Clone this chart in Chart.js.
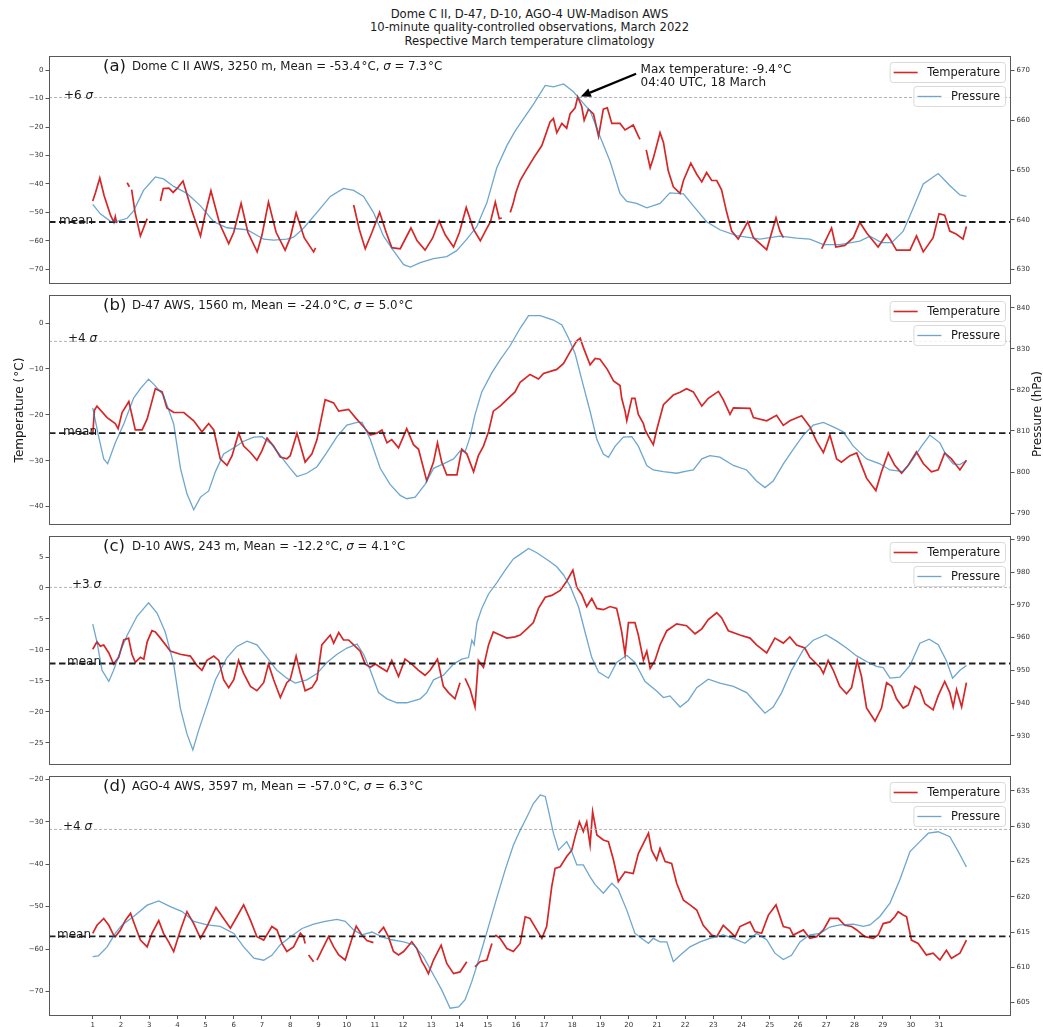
<!DOCTYPE html>
<html>
<head>
<meta charset="utf-8">
<title>UW-Madison AWS, March 2022</title>
<script src="https://cdn.jsdelivr.net/npm/chart.js@4.4.1/dist/chart.umd.min.js"></script>
<style>
  body { margin: 0; background: #fff; }
  #fig { position: relative; width: 1043px; height: 1027px; background: #fff; overflow: hidden; }
  #fig canvas { position: absolute; left: 0; }
  #title {
    position: absolute; left: 0; top: 8px; width: 1059px; text-align: center;
    font: 11.6px/13.3px "DejaVu Sans", sans-serif; color: #1a1a1a;
  }
</style>
</head>
<body>
<div id="fig">
  <div id="title">Dome C II, D-47, D-10, AGO-4 UW-Madison AWS<br>10-minute quality-controlled observations, March 2022<br>Respective March temperature climatology</div>
  <canvas id="p0"></canvas>
  <canvas id="p1"></canvas>
  <canvas id="p2"></canvas>
  <canvas id="p3"></canvas>
</div>
<script>
// station metadata and March climatology
const stations = ["Dome C II", "D-47", "D-10", "AGO-4"];
const elevations = [3250, 1560, 243, 3597];
const climMean = [-53.4, -24.0, -12.2, -57.0];
const climSigma = [7.3, 5.0, 4.1, 6.3];
const sigmaLevel = [6, 4, 3, 4];

// warmest reading at Dome C II
const maxTemp = -9.4;
const maxTempDay = 18 + (4 * 60 + 40) / 1440;

// [day of March, value]; null marks a gap in the record
const domeTemp = [[1.0,-46],[1.1,-43],[1.25,-37.9],[1.4,-44],[1.63,-51],[1.75,-53.5],[1.8,-51.5],[1.85,-53.8],[1.9,null],
  [2.22,-39.6],[2.3,-41],[2.32,null],[2.38,-42],[2.5,-50],[2.69,-58.3],[2.8,-55.5],[2.93,-52.2],[2.95,null],
  [3.4,-46],[3.5,-41.6],[3.7,-41.5],[3.85,-43],[4.0,-41.5],[4.2,-39],[4.5,-49],[4.82,-58.3],[5.0,-50],[5.19,-42.4],
  [5.5,-54],[5.82,-61],[6.0,-57],[6.26,-46.8],[6.5,-57],[6.83,-63.9],[7.0,-58],[7.23,-46.4],[7.5,-57],[7.82,-63.3],
  [8.0,-59],[8.21,-50.2],[8.5,-59],[8.83,-63.9],[8.9,-62.5],[8.92,null],
  [10.25,-47.4],[10.45,-56],[10.66,-62.8],[10.9,-57],[11.17,-50],[11.4,-57],[11.6,-62.4],[11.9,-62.8],[12.28,-55.5],
  [12.5,-60],[12.78,-63.3],[13.05,-59],[13.28,-53],[13.5,-58],[13.79,-62.2],[14.0,-57],[14.24,-48.3],[14.5,-56],
  [14.74,-60],[14.95,-56],[15.1,-53.3],[15.27,-46.4],[15.41,-52.2],[15.5,-52],[15.52,null],
  [15.8,-50],[15.9,-47],[16.0,-43],[16.15,-38.8],[16.35,-35.4],[16.62,-31],[16.92,-26.5],[17.21,-18.2],[17.33,-17],
  [17.45,-22],[17.63,-18.7],[17.8,-20.4],[17.92,-15.4],[18.1,-13.2],[18.19,-9.4],[18.33,-12.6],[18.42,-17.6],
  [18.57,-13.7],[18.75,-15.4],[18.93,-23.2],[19.1,-13.7],[19.24,-13.2],[19.4,-18.7],[19.69,-18.7],[19.87,-21],
  [20.16,-19.3],[20.34,-23.2],[20.4,-24.3],[20.45,null],
  [20.62,-28],[20.76,-34.3],[20.87,-31],[21.11,-22],[21.23,-25.4],[21.4,-35.4],[21.58,-41],[21.82,-43.3],[21.94,-38.8],
  [22.2,-32.7],[22.41,-36.6],[22.59,-39.3],[22.76,-36],[22.94,-38.8],[23.12,-38.8],[23.29,-42.1],[23.47,-49.9],
  [23.65,-56.6],[23.88,-59.4],[24.22,-53.3],[24.42,-58.9],[24.89,-63.1],[25.22,-51.9],[25.36,-56.6],[25.48,-58.9],[25.5,null],
  [26.84,-62.8],[26.95,-60.5],[27.19,-55.5],[27.34,-62.2],[27.66,-61.6],[27.96,-58.9],[28.19,-53.5],[28.43,-57.2],
  [28.84,-62.2],[29.14,-57.7],[29.26,-59.4],[29.49,-63.3],[29.97,-63.3],[30.2,-58.3],[30.44,-63.9],[30.79,-58.9],
  [31.0,-50.5],[31.2,-51],[31.38,-56.6],[31.62,-57.7],[31.85,-59.4],[31.97,-55]];

const domePres = [[1.0,643.1],[1.27,641.2],[1.63,639.7],[1.8,639.6],[2.22,640.3],[2.45,641.8],[2.8,645.9],[3.22,648.6],
  [3.51,648.2],[3.87,646.7],[4.34,645.3],[4.82,642.8],[5.29,639.6],[5.76,638.4],[6.47,638.0],[7.06,636.1],[7.41,635.9],
  [7.88,636.1],[8.12,636.5],[8.47,638.3],[8.95,641.5],[9.42,644.7],[9.89,646.3],[10.25,645.9],[10.6,644.7],[10.95,641.5],
  [11.31,636.7],[11.66,633.8],[12.02,631.0],[12.26,630.5],[12.61,631.4],[13.08,632.2],[13.55,632.6],[13.9,633.8],
  [14.26,636.1],[14.61,638.6],[14.97,643.4],[15.32,650.4],[15.68,654.9],[15.97,657.8],[16.15,659.3],[16.62,663.2],
  [17.04,667.0],[17.33,666.7],[17.69,667.3],[18.04,665.7],[18.33,663.8],[18.63,661.9],[18.98,656.8],[19.34,651.7],
  [19.69,645.3],[19.93,643.7],[20.28,643.3],[20.64,642.4],[21.11,643.3],[21.46,645.4],[21.94,645.2],[22.29,642.8],
  [22.76,639.6],[23.23,638.0],[23.82,636.8],[24.65,636.1],[25.36,636.7],[25.95,636.3],[26.42,636.1],[26.9,635.0],
  [27.48,635.0],[28.19,635.7],[28.55,636.7],[28.96,635.4],[29.32,635.4],[29.73,637.7],[30.02,641.5],[30.44,647.2],
  [30.97,649.3],[31.38,646.9],[31.74,645.0],[31.97,644.7]];

const d47Temp = [[1.0,-24.4],[1.06,-19],[1.15,-18.1],[1.51,-20.6],[1.8,-21.9],[1.9,-23],[2.04,-19.5],[2.28,-17.1],
  [2.51,-23.3],[2.75,-23.3],[2.93,-20.9],[3.22,-14.3],[3.46,-15],[3.63,-18.5],[3.87,-19.5],[4.23,-19.5],[4.58,-21.3],
  [4.87,-23.7],[5.11,-21.9],[5.29,-23.3],[5.52,-29.6],[5.76,-31],[5.94,-28.9],[6.17,-24],[6.35,-26.8],[6.59,-28.2],
  [6.82,-29.9],[7.0,-27.8],[7.18,-25.1],[7.41,-26.8],[7.65,-29.2],[7.88,-29.6],[8.0,-28.9],[8.24,-24],[8.53,-30.3],
  [8.77,-28.5],[8.95,-25.4],[9.24,-16.7],[9.54,-17.4],[9.72,-19.2],[10.07,-18.8],[10.31,-20.6],[10.6,-22.6],
  [10.84,-24.4],[11.07,-24],[11.25,-23.3],[11.43,-26.1],[11.6,-25.4],[11.84,-27.2],[12.13,-23],[12.37,-26.5],
  [12.55,-27.5],[12.84,-34.4],[13.08,-30.3],[13.22,-26.1],[13.37,-30.3],[13.55,-33.1],[13.91,-33.1],[14.08,-27.5],
  [14.26,-28.5],[14.5,-32.4],[14.67,-28.9],[14.85,-26.8],[15.03,-23.7],[15.2,-19.2],[15.44,-18.1],[15.68,-16.7],
  [15.97,-15],[16.15,-12.9],[16.5,-11.2],[16.8,-12.2],[16.98,-11],[17.45,-10.1],[17.69,-8.8],[17.92,-6.3],
  [18.16,-3.9],[18.28,-3.3],[18.39,-5.3],[18.63,-9.1],[18.81,-7.7],[18.98,-7.9],[19.24,-10.1],[19.46,-12.6],
  [19.69,-13.6],[19.75,-16.4],[19.87,-19.2],[19.93,-21.3],[20.11,-16.4],[20.22,-16.4],[20.34,-19.9],[20.52,-21.9],
  [20.58,-23.3],[20.7,-24.7],[20.87,-26.5],[20.99,-23.3],[21.23,-17.8],[21.58,-15.7],[21.82,-15.1],[22.05,-14.3],
  [22.29,-15],[22.59,-18.1],[22.82,-16.4],[23.18,-14.9],[23.35,-16.7],[23.59,-19.9],[23.71,-18.5],[24.3,-18.6],
  [24.42,-20.6],[24.89,-21.3],[25.24,-20.1],[25.48,-22.3],[25.71,-21.3],[26.13,-20.2],[26.42,-22.6],[26.66,-25.8],
  [26.9,-28.2],[27.13,-24.4],[27.37,-29.6],[27.54,-30.3],[27.84,-28.9],[28.08,-28.3],[28.43,-33.8],[28.76,-36.5],
  [28.96,-32.4],[29.2,-28.3],[29.43,-31],[29.67,-32.7],[29.91,-31],[30.2,-28.1],[30.44,-30.6],[30.73,-32.4],
  [30.97,-32],[31.2,-28.3],[31.44,-29.6],[31.74,-32],[31.97,-29.9]];

const d47Pres = [[1.0,815.6],[1.21,808.6],[1.39,803.2],[1.53,802.0],[1.8,807.1],[2.1,811.7],[2.45,818.0],[2.69,820.3],
  [2.98,822.6],[3.16,821.4],[3.51,818.7],[3.87,811.7],[4.11,800.9],[4.34,794.7],[4.58,790.8],[4.82,793.9],[5.11,795.4],
  [5.35,800.1],[5.64,804.4],[6.0,805.9],[6.35,807.5],[6.71,808.5],[7.0,808.6],[7.35,806.7],[7.65,804.0],[8.0,800.9],
  [8.24,798.9],[8.59,799.7],[8.95,801.3],[9.3,804.8],[9.66,808.6],[10.01,811.4],[10.37,812.1],[10.55,812.1],
  [10.84,807.9],[11.19,800.9],[11.54,797.0],[11.9,794.3],[12.13,793.5],[12.43,793.9],[12.78,797.0],[13.08,800.9],
  [13.43,802.0],[13.79,803.2],[14.02,805.1],[14.2,804.9],[14.38,808.6],[14.55,813.9],[14.79,819.5],[15.15,824.2],
  [15.44,827.3],[15.8,830.8],[16.15,835.0],[16.45,838.1],[16.86,838.1],[17.33,837.0],[17.63,835.8],[17.86,832.7],
  [18.1,828.8],[18.33,822.6],[18.63,814.8],[18.87,807.9],[19.1,804.4],[19.28,803.6],[19.52,806.3],[19.81,808.5],
  [20.11,808.6],[20.34,806.3],[20.64,801.6],[20.87,800.5],[21.23,800.1],[21.7,799.7],[22.05,800.2],[22.29,800.5],
  [22.59,803.2],[22.88,804.0],[23.23,803.6],[23.71,801.6],[24.18,800.5],[24.53,797.8],[24.83,796.2],[25.12,797.8],
  [25.48,802.0],[25.83,805.5],[26.19,809.0],[26.54,811.4],[26.9,812.1],[27.25,811.0],[27.6,809.8],[27.96,806.3],
  [28.43,803.2],[28.9,802.0],[29.26,800.5],[29.73,800.1],[30.08,803.2],[30.38,806.3],[30.67,809.0],[31.03,807.1],
  [31.26,804.0],[31.5,802.0],[31.74,801.8],[31.97,802.8]];

const d10Temp = [[1.0,-9.9],[1.15,-8.7],[1.27,-9.4],[1.39,-9.2],[1.57,-10.5],[1.74,-12.3],[1.92,-11.2],[2.1,-8.4],
  [2.27,-8.1],[2.39,-10.7],[2.51,-12],[2.69,-11.2],[2.81,-11.5],[2.93,-8.7],[3.1,-6.9],[3.22,-7.1],[3.4,-8.1],
  [3.75,-10.2],[4.1,-10.7],[4.46,-11],[4.69,-12.5],[4.87,-13.3],[5.05,-11.7],[5.29,-11],[5.47,-11.7],[5.64,-14.8],
  [5.82,-16.1],[6.0,-14.8],[6.17,-11.7],[6.35,-13.8],[6.59,-15.9],[6.82,-16.6],[7.06,-15.3],[7.23,-12.3],[7.41,-14.8],
  [7.65,-17.7],[7.88,-15.3],[8.0,-14.8],[8.21,-11],[8.36,-13.8],[8.53,-16.6],[8.77,-16.1],[8.95,-14.8],[9.12,-9.2],
  [9.42,-7.6],[9.54,-8.9],[9.72,-7.2],[9.89,-8.4],[10.07,-8.4],[10.25,-9.2],[10.48,-10.2],[10.66,-12.3],[10.84,-12.8],
  [11.02,-12.3],[11.19,-12.8],[11.43,-13.5],[11.6,-11.7],[11.84,-14.3],[12.07,-11.5],[12.31,-12.3],[12.55,-13.3],
  [12.78,-14.1],[12.96,-13.3],[13.22,-11.5],[13.43,-15.9],[13.61,-16.9],[13.84,-17.9],[14.02,-15.3],[14.08,null],
  [14.2,-14.6],[14.38,-16.4],[14.55,-19.2],[14.67,-11.7],[14.85,-12.8],[15.03,-9.2],[15.2,-7.1],[15.44,-7.6],
  [15.68,-8.1],[15.97,-7.9],[16.15,-7.6],[16.39,-6.6],[16.62,-5.6],[16.8,-3.3],[17.04,-1.5],[17.27,-1.2],[17.57,-0.4],
  [17.8,1.1],[18.02,2.9],[18.16,0.1],[18.33,-1],[18.51,-3],[18.69,-1.7],[18.87,-3.3],[19.1,-3.5],[19.34,-3],
  [19.57,-3.3],[19.67,-5.3],[19.75,-7.1],[19.87,-10.7],[19.99,-5.6],[20.22,-5.6],[20.34,-7.6],[20.52,-11.7],
  [20.64,-10.2],[20.76,-13],[20.93,-11.7],[21.11,-9.2],[21.35,-6.9],[21.7,-5.8],[22.05,-6.1],[22.35,-7.4],[22.59,-6.6],
  [22.82,-5.1],[23.12,-4],[23.29,-4.8],[23.53,-6.9],[23.94,-7.6],[24.3,-8.1],[24.53,-9.2],[24.89,-10.5],[25.18,-8.1],
  [25.48,-8.9],[25.71,-7.9],[25.95,-9.2],[26.24,-9.7],[26.42,-11.2],[26.78,-12.8],[26.9,-13.8],[27.07,-11.7],
  [27.25,-13.3],[27.48,-15.9],[27.72,-17.1],[27.9,-16.1],[28.1,-11.7],[28.25,-14.3],[28.43,-19.4],[28.73,-21.5],
  [28.96,-19.4],[29.14,-15.3],[29.32,-15.9],[29.49,-17.9],[29.73,-19.4],[29.91,-18.9],[30.14,-15.9],[30.32,-16.4],
  [30.5,-18.7],[30.79,-19.7],[30.97,-17.4],[31.2,-15.1],[31.38,-16.9],[31.5,-19.2],[31.62,-16.4],[31.8,-19.2],
  [31.97,-15.3]];

const d10Pres = [[1.0,964.1],[1.15,958.7],[1.33,950.0],[1.57,946.6],[1.74,950.0],[1.98,955.8],[2.22,960.7],[2.57,966.5],
  [2.81,968.9],[2.98,970.6],[3.28,967.5],[3.57,961.7],[3.87,951.9],[4.11,938.3],[4.34,930.6],[4.55,925.7],[4.75,931.6],
  [5.05,939.3],[5.35,947.1],[5.76,953.9],[6.11,957.3],[6.47,958.9],[6.82,957.8],[7.18,953.9],[7.53,950.0],[7.88,947.6],
  [8.18,946.1],[8.59,947.1],[8.95,949.0],[9.3,952.4],[9.66,954.9],[10.01,956.8],[10.37,958.0],[10.6,954.9],[10.84,950.0],
  [11.13,943.2],[11.43,941.3],[11.78,940.1],[12.13,940.1],[12.61,941.3],[12.84,943.2],[13.08,947.1],[13.43,948.5],
  [13.79,951.9],[14.08,953.4],[14.32,953.9],[14.44,959.2],[14.52,957.8],[14.62,964.6],[14.79,968.9],[15.03,973.3],
  [15.32,976.7],[15.62,980.6],[15.91,984.0],[16.15,985.4],[16.45,987.2],[16.74,985.9],[17.15,983.5],[17.45,981.6],
  [17.69,979.1],[17.92,975.7],[18.22,969.4],[18.45,961.7],[18.69,953.9],[18.93,949.5],[19.28,947.6],[19.57,952.4],
  [19.93,954.6],[20.22,952.4],[20.58,946.6],[20.99,943.7],[21.23,941.7],[21.46,942.2],[21.82,938.8],[22.11,940.8],
  [22.41,944.7],[22.82,947.3],[23.23,946.1],[23.71,945.1],[24.18,943.2],[24.53,939.8],[24.83,936.9],[25.12,938.8],
  [25.42,943.2],[25.77,950.0],[26.19,956.3],[26.54,959.2],[26.99,960.9],[27.37,958.9],[27.72,956.8],[28.08,954.4],
  [28.43,952.7],[28.78,951.2],[29.02,950.8],[29.26,947.6],[29.61,947.9],[29.97,951.5],[30.32,958.3],[30.65,959.5],
  [30.97,957.8],[31.26,952.9],[31.48,947.6],[31.74,950.0],[31.97,951.5]];

const ago4Temp = [[1.0,-56.3],[1.15,-54.4],[1.39,-52.8],[1.57,-54.4],[1.74,-56.7],[1.8,-57.1],[1.98,-55.5],[2.16,-53.2],
  [2.34,-51.6],[2.51,-54.7],[2.69,-57.9],[2.93,-59.5],[3.1,-56.3],[3.34,-53.3],[3.51,-56.3],[3.69,-58.3],[3.87,-60.6],
  [4.11,-55.5],[4.34,-51.2],[4.58,-54],[4.82,-57.5],[5.05,-54.7],[5.37,-50.2],[5.64,-52.8],[5.88,-55.1],[6.11,-52.4],
  [6.35,-49.6],[6.59,-53.2],[6.82,-57.1],[7.06,-57.9],[7.35,-54.7],[7.53,-55.5],[7.71,-58.7],[7.88,-60.6],[8.12,-59.5],
  [8.36,-56.3],[8.47,-57.1],[8.53,-58.7],[8.58,null],[8.65,-61.4],[8.83,-63],[8.88,null],[8.95,-62.6],[9.18,-59.5],
  [9.36,-57.1],[9.54,-59.5],[9.72,-61.4],[9.95,-62.6],[10.19,-57.5],[10.34,-54.6],[10.54,-56.7],[10.72,-58],
  [10.95,-58.5],[11.04,null],[11.13,-56.3],[11.31,-54.9],[11.48,-57.1],[11.66,-60.6],[11.84,-61.4],[12.02,-60.6],
  [12.31,-58.3],[12.49,-59.9],[12.67,-63],[12.78,-64.2],[12.9,-65.8],[13.08,-62.6],[13.35,-59.1],[13.55,-63.4],
  [13.79,-65.8],[14.02,-65.4],[14.26,-63],[14.38,null],[14.55,-64.2],[14.73,-63],[14.97,-62.6],[15.15,-58.7],
  [15.2,null],[15.27,-56.7],[15.44,-57.5],[15.68,-59.9],[15.91,-60.6],[16.15,-58.7],[16.33,-52.4],[16.5,-52.8],
  [16.74,-55.5],[16.92,-57.5],[17.09,-54.7],[17.27,-45.3],[17.39,-41],[17.57,-40.6],[17.8,-38.2],[17.98,-36.7],
  [18.1,-33.5],[18.25,-30],[18.39,-32.3],[18.51,-30],[18.63,-35.5],[18.72,-27.6],[18.87,-33.1],[19.1,-34.3],
  [19.28,-34.7],[19.46,-39],[19.63,-44.1],[19.87,-41.8],[20.16,-42.2],[20.34,-37.5],[20.52,-35.1],[20.7,-32.7],
  [20.81,-36.7],[20.99,-39],[21.11,-36.3],[21.29,-39.4],[21.52,-39.8],[21.7,-44.5],[21.94,-48.5],[22.17,-49.6],
  [22.41,-50.8],[22.64,-54.4],[22.94,-56.7],[23.12,-57.1],[23.35,-54.4],[23.59,-55.9],[23.77,-57.1],[23.94,-54.7],
  [24.3,-53.6],[24.47,-55.9],[24.71,-56.3],[24.95,-52],[25.22,-49.6],[25.48,-54.7],[25.71,-55.1],[25.83,-56.7],
  [26.19,-55.5],[26.42,-57.5],[26.66,-57.1],[26.9,-55.5],[27.13,-52.8],[27.43,-52.8],[27.66,-54.4],[27.9,-54.7],
  [28.08,-55.5],[28.37,-57.1],[28.67,-57.5],[28.84,-56.7],[29.02,-54],[29.26,-53.6],[29.43,-52.4],[29.55,-51.2],
  [29.73,-52],[29.85,-52.4],[30.02,-57.9],[30.26,-58.7],[30.55,-61.4],[30.79,-61],[31.03,-62.6],[31.26,-60.3],
  [31.44,-62.2],[31.74,-61],[31.97,-57.9]];

const ago4Pres = [[1.0,611.5],[1.2,611.6],[1.51,612.9],[1.8,614.8],[2.04,616.0],[2.45,617.2],[2.93,618.8],[3.34,619.4],
  [3.75,618.6],[4.17,617.9],[4.58,616.5],[5.05,616.0],[5.52,615.8],[6.0,614.8],[6.35,612.9],[6.71,611.3],[7.06,611.0],
  [7.35,611.7],[7.65,613.2],[8.0,614.3],[8.42,615.5],[8.83,616.1],[9.24,616.5],[9.66,616.8],[9.95,616.5],[10.25,615.3],
  [10.54,614.6],[10.9,615.0],[11.25,614.3],[11.6,613.9],[12.02,613.6],[12.37,613.2],[12.72,611.5],[13.08,608.9],
  [13.37,606.8],[13.67,604.2],[13.97,604.4],[14.2,605.4],[14.44,608.0],[14.73,611.7],[15.03,615.8],[15.32,619.8],
  [15.62,623.8],[15.91,627.3],[16.15,629.4],[16.39,631.3],[16.62,633.2],[16.86,634.4],[17.04,634.2],[17.15,632.3],
  [17.33,629.0],[17.51,626.6],[17.8,627.8],[17.98,626.4],[18.16,624.5],[18.39,624.5],[18.63,622.8],[18.81,621.7],
  [19.1,620.5],[19.4,621.9],[19.63,621.0],[19.93,618.1],[20.22,614.8],[20.52,613.9],[20.7,613.4],[20.87,614.1],
  [21.11,613.6],[21.35,613.6],[21.58,610.8],[21.82,611.7],[22.17,612.9],[22.53,613.6],[22.88,614.1],[23.35,614.6],
  [23.71,614.1],[24.12,613.4],[24.53,614.8],[24.89,613.9],[25.18,612.0],[25.48,611.1],[25.77,611.7],[26.07,613.6],
  [26.42,614.6],[26.78,614.8],[27.13,615.7],[27.48,616.0],[27.96,616.1],[28.31,615.8],[28.55,616.0],[28.9,617.2],
  [29.26,619.1],[29.61,622.4],[29.97,626.4],[30.32,627.8],[30.62,629.0],[30.97,629.2],[31.38,628.5],[31.68,626.4],
  [31.97,624.2]];

const dayTicks = Array.from({ length: 31 }, (_, k) => k + 1);
const tempTicks = [
  [-70, -60, -50, -40, -30, -20, -10, 0],
  [-40, -30, -20, -10, 0],
  [-25, -20, -15, -10, -5, 0, 5],
  [-70, -60, -50, -40, -30, -20]
];
const presTicks = [
  [630, 640, 650, 660, 670],
  [790, 800, 810, 820, 830, 840],
  [930, 940, 950, 960, 970, 980, 990],
  [605, 610, 615, 620, 625, 630, 635]
];

const tempSeries = [domeTemp, d47Temp, d10Temp, ago4Temp];
const presSeries = [domePres, d47Pres, d10Pres, ago4Pres];

// layout of the stacked panels (page pixels)
const panelTop = [56, 295, 536, 776];
const panelBottom = [295, 536, 776, 1016];
const tempLimits = [[-75.2, 5.0], [-44.0, 6.1], [-28.6, 8.4], [-75.8, -19.2]];
const presLimits = [[627.1, 672.9], [787.1, 843.1], [921.1, 991.0], [603.1, 637.1]];
const textInset = [[15, 10], [19, 14], [23, 18], [14, 8]]; // [sigma label, mean label] from left edge

const FONT = '"DejaVu Sans", sans-serif';
const RED = "#d62728";
const BLUE = "rgba(31, 119, 180, 0.65)";
const PAD = 12;

const minus = v => (v < 0 ? "\u2212" + Math.abs(v) : String(v));
const toXY = arr => arr.map(([x, y]) => ({ x, y }));

function drawRuns(ctx, x, y, runs) {
  for (const [text, font] of runs) {
    ctx.font = font;
    ctx.fillText(text, x, y);
    x += ctx.measureText(text).width;
  }
  return x;
}

function hline(ctx, a, y, color, width, dash) {
  ctx.strokeStyle = color;
  ctx.lineWidth = width;
  ctx.setLineDash(dash);
  ctx.beginPath();
  ctx.moveTo(a.left, y);
  ctx.lineTo(a.right, y);
  ctx.stroke();
}

function legendBox(ctx, right, top, label, color, lineW) {
  ctx.font = "11.5px " + FONT;
  const tw = ctx.measureText(label).width;
  const w = 4 + 24 + 9.5 + tw + 5;
  const x0 = right - w, h = 20;
  ctx.save();
  ctx.fillStyle = "rgba(255,255,255,0.85)";
  ctx.strokeStyle = "#d9d9d9";
  ctx.lineWidth = 1;
  ctx.beginPath();
  ctx.roundRect(x0 + 0.5, top + 0.5, w, h, 3);
  ctx.fill();
  ctx.stroke();
  ctx.strokeStyle = color;
  ctx.lineWidth = lineW;
  ctx.beginPath();
  ctx.moveTo(x0 + 4, top + 10.5);
  ctx.lineTo(x0 + 28, top + 10.5);
  ctx.stroke();
  ctx.fillStyle = "#1a1a1a";
  ctx.textBaseline = "middle";
  ctx.textAlign = "left";
  ctx.fillText(label, x0 + 37.5, top + 11);
  ctx.restore();
}

function arrow(ctx, x1, y1, x2, y2) {
  const ang = Math.atan2(y2 - y1, x2 - x1);
  const hl = 10, hw = 4.5;
  const bx = x2 - hl * Math.cos(ang), by = y2 - hl * Math.sin(ang);
  ctx.strokeStyle = "#000";
  ctx.fillStyle = "#000";
  ctx.lineWidth = 2.2;
  ctx.setLineDash([]);
  ctx.beginPath();
  ctx.moveTo(x1, y1);
  ctx.lineTo(bx, by);
  ctx.stroke();
  ctx.beginPath();
  ctx.moveTo(x2, y2);
  ctx.lineTo(bx + hw * Math.sin(ang), by - hw * Math.cos(ang));
  ctx.lineTo(bx - hw * Math.sin(ang), by + hw * Math.cos(ang));
  ctx.closePath();
  ctx.fill();
}

const decorations = {
  id: "decorations",
  afterDatasetDraw(chart, args, o) {
    if (args.index !== 1) return; // right after the temperature trace
    const i = o.panel;
    const { ctx, chartArea: a } = chart;
    const yT = chart.scales.yT;
    ctx.save();
    ctx.beginPath();
    ctx.rect(a.left, a.top, a.right - a.left, a.bottom - a.top);
    ctx.clip();
    const ySig = yT.getPixelForValue(climMean[i] + sigmaLevel[i] * climSigma[i]);
    const yMean = yT.getPixelForValue(climMean[i]);
    hline(ctx, a, ySig, "#b3b3b3", 1, [3, 2]);
    hline(ctx, a, yMean, "#1e1e1e", 1.8, [6.5, 3.5]);
    ctx.fillStyle = "#1a1a1a";
    ctx.textBaseline = "alphabetic";
    drawRuns(ctx, a.left + textInset[i][0], ySig + 1, [
      ["+" + sigmaLevel[i] + " ", "12px " + FONT],
      ["\u03c3", "italic 12px " + FONT]
    ]);
    ctx.font = "12px " + FONT;
    ctx.fillText("mean", a.left + textInset[i][1], yMean + 1.5);
    ctx.restore();
  },
  afterDraw(chart, args, o) {
    const i = o.panel;
    const { ctx, chartArea: a } = chart;
    ctx.save();
    ctx.setLineDash([]);

    // panel heading
    ctx.fillStyle = "#1a1a1a";
    ctx.textBaseline = "alphabetic";
    ctx.textAlign = "left";
    drawRuns(ctx, a.left + 54, a.top + 14.5, [["(" + "abcd"[i] + ")", "16.5px " + FONT]]);
    drawRuns(ctx, a.left + 83, a.top + 14, [
      [stations[i] + " AWS, " + elevations[i] + " m, Mean = " + climMean[i].toFixed(1) + "\u200a\u00b0C, ", "11.8px " + FONT],
      ["\u03c3", "italic 11.8px " + FONT],
      [" = " + climSigma[i].toFixed(1) + "\u200a\u00b0C", "11.8px " + FONT]
    ]);

    // two separate legend boxes, one per axis
    legendBox(ctx, a.right - 6, a.top + 6, "Temperature", RED, 1.6);
    legendBox(ctx, a.right - 6, a.top + 30, "Pressure", BLUE, 1.3);

    if (o.annotate) {
      const xs = chart.scales.x, yT = chart.scales.yT;
      const px = xs.getPixelForValue(maxTempDay), py = yT.getPixelForValue(maxTemp);
      const tx = xs.getPixelForValue(20.42), ty = yT.getPixelForValue(0.2);
      ctx.font = "12px " + FONT;
      ctx.fillStyle = "#1a1a1a";
      ctx.textBaseline = "middle";
      ctx.fillText("Max temperature: " + maxTemp.toFixed(1) + "\u200a\u00b0C", tx, ty);
      ctx.fillText("04:40 UTC, 18 March", tx, ty + 13.3);
      arrow(ctx, tx - 4.5, ty + 4, px + 3, py - 0.5);
    }

    if (o.axisTitles) {
      ctx.font = "12px " + FONT;
      ctx.fillStyle = "#1a1a1a";
      ctx.textAlign = "center";
      ctx.textBaseline = "middle";
      const cy = (a.top + a.bottom) / 2;
      ctx.save();
      ctx.translate(19.5, cy);
      ctx.rotate(-Math.PI / 2);
      ctx.fillText("Temperature (\u200a\u00b0C)", 0, 0);
      ctx.restore();
      ctx.save();
      ctx.translate(1037.5, cy + 4);
      ctx.rotate(-Math.PI / 2);
      ctx.fillText("Pressure (hPa)", 0, 0);
      ctx.restore();
    }

    // axes frame
    ctx.strokeStyle = "#595959";
    ctx.lineWidth = 1;
    ctx.strokeRect(a.left + 0.5, a.top + 0.5, a.right - a.left - 1, a.bottom - a.top - 1);
    ctx.restore();
  }
};

function makePanel(i) {
  const last = i === 3;
  const canvas = document.getElementById("p" + i);
  const top = panelTop[i] - PAD;
  const bottom = last ? 1027 : panelBottom[i] + PAD;
  canvas.width = 1043;
  canvas.height = bottom - top;
  canvas.style.top = top + "px";

  const tickFont = { family: FONT, size: 7 };
  return new Chart(canvas, {
    type: "line",
    data: {
      datasets: [
        {
          label: "Pressure",
          data: toXY(presSeries[i]),
          yAxisID: "yP",
          borderColor: BLUE,
          borderWidth: 1.3,
          pointRadius: 0,
          spanGaps: false
        },
        {
          label: "Temperature",
          data: toXY(tempSeries[i]),
          yAxisID: "yT",
          borderColor: RED,
          borderWidth: 1.7,
          pointRadius: 0,
          spanGaps: false
        }
      ]
    },
    options: {
      responsive: false,
      animation: false,
      events: [],
      layout: { padding: { top: PAD, bottom: last ? 0 : PAD, left: 0, right: 0 } },
      plugins: {
        legend: { display: false },
        tooltip: { enabled: false },
        decorations: { panel: i, annotate: i === 0, axisTitles: i === 1 }
      },
      scales: {
        x: {
          type: "linear",
          min: -0.55,
          max: 33.55,
          display: last,
          afterBuildTicks: s => { s.ticks = dayTicks.map(v => ({ value: v })); },
          afterFit: s => { s.height = 11; },
          grid: { drawOnChartArea: false, drawTicks: true, tickLength: 3, color: "#555" },
          border: { display: false },
          ticks: { font: tickFont, color: "#333", padding: 2, maxRotation: 0, autoSkip: false }
        },
        yT: {
          type: "linear",
          position: "left",
          min: tempLimits[i][0],
          max: tempLimits[i][1],
          afterBuildTicks: s => { s.ticks = tempTicks[i].map(v => ({ value: v })); },
          afterFit: s => { s.width = 49; },
          grid: { drawOnChartArea: false, drawTicks: true, tickLength: 3.5, color: "#555" },
          border: { display: false },
          ticks: { font: tickFont, color: "#333", padding: 2, callback: minus }
        },
        yP: {
          type: "linear",
          position: "right",
          min: presLimits[i][0],
          max: presLimits[i][1],
          afterBuildTicks: s => { s.ticks = presTicks[i].map(v => ({ value: v })); },
          afterFit: s => { s.width = 32; },
          grid: { drawOnChartArea: false, drawTicks: true, tickLength: 3.5, color: "#555" },
          border: { display: false },
          ticks: { font: tickFont, color: "#333", padding: 2, callback: minus }
        }
      }
    },
    plugins: [decorations]
  });
}

[0, 1, 2, 3].forEach(makePanel);
</script>
</body>
</html>
